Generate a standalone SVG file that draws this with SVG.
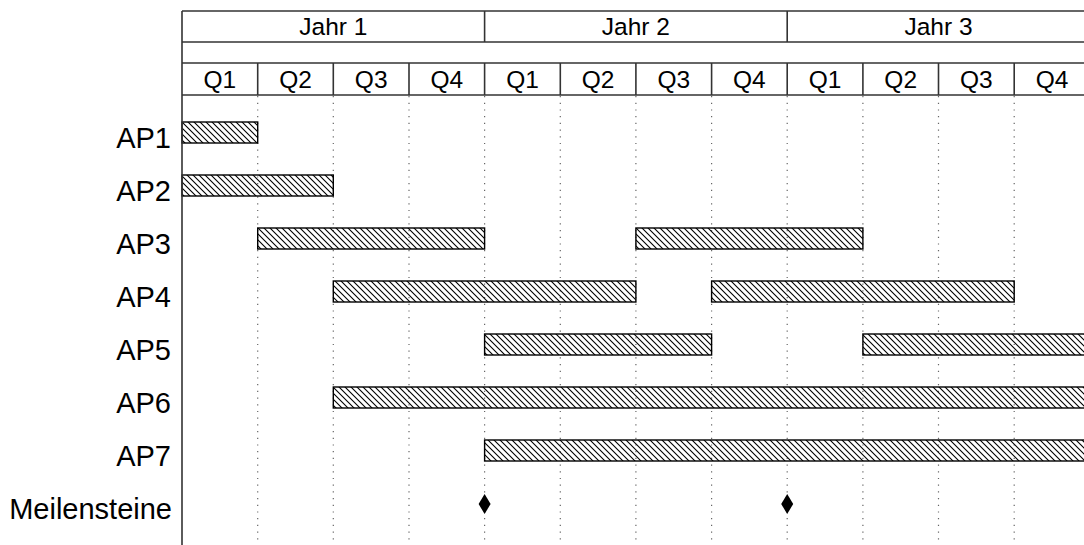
<svg xmlns="http://www.w3.org/2000/svg" width="1084" height="545" viewBox="0 0 1084 545">
  <defs>
    <pattern id="hatch" patternUnits="userSpaceOnUse" width="6" height="6">
      <path d="M-1,-1 L7,7 M-1,5 L1,7 M5,-1 L7,1" stroke="#000" stroke-width="1.1" fill="none"/>
    </pattern>
  </defs>
  <style>
    .frame { stroke: #333; stroke-width: 1.6; fill: none; }
    .grid { stroke: #666; stroke-width: 1.2; stroke-dasharray: 1.2 5.5; fill: none; }
    .bar { fill: url(#hatch); stroke: #000; stroke-width: 1.4; }
    .hdr { font-family: "Liberation Sans", Arial, sans-serif; font-size: 24.5px; fill: #000; text-anchor: middle; }
    .lbl { font-family: "Liberation Sans", Arial, sans-serif; font-size: 29px; fill: #000; text-anchor: end; }
    .ms { fill: #000; }
  </style>
  <rect width="1084" height="545" fill="#fff"/>

  <!-- dotted quarter grid -->
  <g id="grid">
    <line class="grid" x1="257.7" y1="96" x2="257.7" y2="545"/>
    <line class="grid" x1="333.3" y1="96" x2="333.3" y2="545"/>
    <line class="grid" x1="409" y1="96" x2="409" y2="545"/>
    <line class="grid" x1="484.6" y1="96" x2="484.6" y2="545"/>
    <line class="grid" x1="560.3" y1="96" x2="560.3" y2="545"/>
    <line class="grid" x1="635.9" y1="96" x2="635.9" y2="545"/>
    <line class="grid" x1="711.6" y1="96" x2="711.6" y2="545"/>
    <line class="grid" x1="787.2" y1="96" x2="787.2" y2="545"/>
    <line class="grid" x1="862.9" y1="96" x2="862.9" y2="545"/>
    <line class="grid" x1="938.5" y1="96" x2="938.5" y2="545"/>
    <line class="grid" x1="1014.2" y1="96" x2="1014.2" y2="545"/>
  </g>

  <!-- header: years and quarters -->
  <g id="header">
    <line class="frame" x1="182" y1="11" x2="1084" y2="11"/>
    <line class="frame" x1="182" y1="42" x2="1084" y2="42"/>
    <line class="frame" x1="182" y1="63" x2="1084" y2="63"/>
    <line class="frame" x1="182" y1="95" x2="1084" y2="95"/>
    <line class="frame" x1="484.6" y1="11" x2="484.6" y2="42"/>
    <line class="frame" x1="787.2" y1="11" x2="787.2" y2="42"/>
    <line class="frame" x1="257.7" y1="63" x2="257.7" y2="95"/>
    <line class="frame" x1="333.3" y1="63" x2="333.3" y2="95"/>
    <line class="frame" x1="409" y1="63" x2="409" y2="95"/>
    <line class="frame" x1="484.6" y1="63" x2="484.6" y2="95"/>
    <line class="frame" x1="560.3" y1="63" x2="560.3" y2="95"/>
    <line class="frame" x1="635.9" y1="63" x2="635.9" y2="95"/>
    <line class="frame" x1="711.6" y1="63" x2="711.6" y2="95"/>
    <line class="frame" x1="787.2" y1="63" x2="787.2" y2="95"/>
    <line class="frame" x1="862.9" y1="63" x2="862.9" y2="95"/>
    <line class="frame" x1="938.5" y1="63" x2="938.5" y2="95"/>
    <line class="frame" x1="1014.2" y1="63" x2="1014.2" y2="95"/>
    <text class="hdr" x="333.3" y="35">Jahr 1</text>
    <text class="hdr" x="635.9" y="35">Jahr 2</text>
    <text class="hdr" x="938.5" y="35">Jahr 3</text>
    <text class="hdr" x="219.9" y="88">Q1</text>
    <text class="hdr" x="295.5" y="88">Q2</text>
    <text class="hdr" x="371.2" y="88">Q3</text>
    <text class="hdr" x="446.8" y="88">Q4</text>
    <text class="hdr" x="522.5" y="88">Q1</text>
    <text class="hdr" x="598.1" y="88">Q2</text>
    <text class="hdr" x="673.8" y="88">Q3</text>
    <text class="hdr" x="749.4" y="88">Q4</text>
    <text class="hdr" x="825.1" y="88">Q1</text>
    <text class="hdr" x="900.7" y="88">Q2</text>
    <text class="hdr" x="976.4" y="88">Q3</text>
    <text class="hdr" x="1052" y="88">Q4</text>
  </g>

  <!-- work packages -->
  <g id="ap1">
    <text class="lbl" x="171" y="148">AP1</text>
    <rect class="bar" x="182" y="122" width="75.7" height="21"/>
  </g>
  <g id="ap2">
    <text class="lbl" x="171" y="201">AP2</text>
    <rect class="bar" x="182" y="175" width="151.3" height="21"/>
  </g>
  <g id="ap3">
    <text class="lbl" x="171" y="254">AP3</text>
    <rect class="bar" x="257.7" y="228" width="226.9" height="21"/>
    <rect class="bar" x="635.9" y="228" width="227" height="21"/>
  </g>
  <g id="ap4">
    <text class="lbl" x="171" y="307">AP4</text>
    <rect class="bar" x="333.3" y="281" width="302.6" height="21"/>
    <rect class="bar" x="711.6" y="281" width="302.6" height="21"/>
  </g>
  <g id="ap5">
    <text class="lbl" x="171" y="360">AP5</text>
    <rect class="bar" x="484.6" y="334" width="227" height="21"/>
    <rect class="bar" x="862.9" y="334" width="230" height="21"/>
  </g>
  <g id="ap6">
    <text class="lbl" x="171" y="413">AP6</text>
    <rect class="bar" x="333.3" y="387" width="760" height="21"/>
  </g>
  <g id="ap7">
    <text class="lbl" x="171" y="466">AP7</text>
    <rect class="bar" x="484.6" y="440" width="610" height="21"/>
  </g>
  <g id="milestones">
    <text class="lbl" x="172" y="519">Meilensteine</text>
    <path class="ms" d="M484.6,494 L490.6,504 L484.6,514 L478.6,504 Z"/>
    <path class="ms" d="M787.2,494 L793.2,504 L787.2,514 L781.2,504 Z"/>
  </g>

  <!-- left axis -->
  <g id="connectors">
    <line class="frame" x1="182" y1="11" x2="182" y2="545"/>
  </g>
</svg>
